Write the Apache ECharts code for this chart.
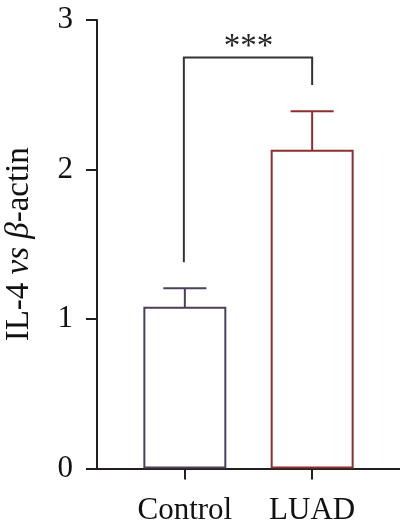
<!DOCTYPE html>
<html><head><meta charset="utf-8">
<script src="https://cdn.jsdelivr.net/npm/echarts@6/dist/echarts.min.js"></script>
<style>html,body{margin:0;padding:0;background:#fff}#c{width:400px;height:532px}</style>
</head><body><div id="c"></div>
<script>
// ---- data ----
const categories = ['Control', 'LUAD'];
const means = [1.075, 2.125];
const errors = [0.13, 0.265];
const yTicks = [0, 1, 2, 3];
const sigLabel = '***';
const bracketLevels = [2.75, 1.38, 2.565]; // top, left foot, right foot

// ---- styles ----
const FONT = "'Liberation Serif', 'Times New Roman', serif";
const barColors = ['#4b3f5e', '#8e2f2f'];
const AXIS = '#231f20';
const BAR_W = 0.636, CAP_W = 0.338;

const chart = echarts.init(document.getElementById('c'));
const barData = categories.map((c, i) => [i, means[i], errors[i]]);
const bracketData = [[0, 1, bracketLevels[0], bracketLevels[1], bracketLevels[2]]];

chart.setOption({
  animation: false,
  grid: { left: 97, right: 0, top: 20, bottom: 63.5, containLabel: false, outerBoundsMode: 'none' },
  xAxis: {
    type: 'value', min: -0.69, max: 1.69,
    splitLine: { show: false },
    axisLine: { onZero: false, lineStyle: { color: AXIS, width: 2 } },
    axisTick: { show: true, customValues: [0, 1], length: 11, lineStyle: { color: AXIS, width: 2 } },
    axisLabel: { customValues: [0, 1], formatter: v => categories[Math.round(v)],
      fontFamily: FONT, fontSize: 31, color: '#111', margin: 27 }
  },
  yAxis: {
    type: 'value', min: yTicks[0], max: yTicks[yTicks.length - 1], interval: 1,
    splitLine: { show: false },
    axisLine: { show: true, onZero: false, lineStyle: { color: AXIS, width: 2 } },
    axisTick: { show: true, length: 11, lineStyle: { color: AXIS, width: 2 } },
    axisLabel: { fontFamily: FONT, fontSize: 31, color: '#111', margin: 24 },
    name: 'IL-4 {i|vs β}-actin', nameLocation: 'middle', nameGap: 61,
    nameTextStyle: { fontFamily: FONT, fontSize: 33, color: '#111',
      rich: { i: { fontFamily: FONT, fontSize: 33, fontStyle: 'italic', color: '#111' } } }
  },
  series: [
    {
      type: 'custom', data: barData, encode: { x: 0, y: 1 },
      renderItem(params, api) {
        const x = api.value(0), m = api.value(1), e = api.value(2);
        const base = api.coord([x, 0]);
        const top = api.coord([x, m]);
        const errTop = api.coord([x, m + e]);
        const w = api.size([BAR_W, 0])[0];
        const cap = api.size([CAP_W, 0])[0];
        const color = barColors[params.dataIndex];
        return { type: 'group', children: [
          { type: 'line', shape: { x1: top[0], y1: top[1], x2: top[0], y2: errTop[1] }, style: { stroke: color, lineWidth: 2 } },
          { type: 'line', shape: { x1: top[0] - cap / 2, y1: errTop[1], x2: top[0] + cap / 2, y2: errTop[1] }, style: { stroke: color, lineWidth: 2 } },
          { type: 'rect', shape: { x: base[0] - w / 2, y: top[1], width: w, height: base[1] - top[1] - 1 }, style: { fill: '#fff', stroke: color, lineWidth: 2 } }
        ] };
      }
    },
    {
      type: 'custom', data: bracketData, encode: { x: [0, 1], y: [2, 3, 4] }, z: 3,
      renderItem(params, api) {
        const pTopL = api.coord([api.value(0), api.value(2)]);
        const pTopR = api.coord([api.value(1), api.value(2)]);
        const pL = api.coord([api.value(0), api.value(3)]);
        const pR = api.coord([api.value(1), api.value(4)]);
        return { type: 'group', children: [
          { type: 'polyline', shape: { points: [[pL[0] - 1, pL[1]], [pTopL[0] - 1, pTopL[1]], [pTopR[0], pTopR[1]], [pR[0], pR[1]]] },
            style: { stroke: '#333', lineWidth: 2, fill: null } },
          { type: 'text', x: (pTopL[0] + pTopR[0]) / 2, y: pTopL[1] + 6,
            style: { text: sigLabel, font: '33px ' + FONT, fill: '#222', align: 'center', verticalAlign: 'bottom' } }
        ] };
      }
    }
  ]
});
</script></body></html>
